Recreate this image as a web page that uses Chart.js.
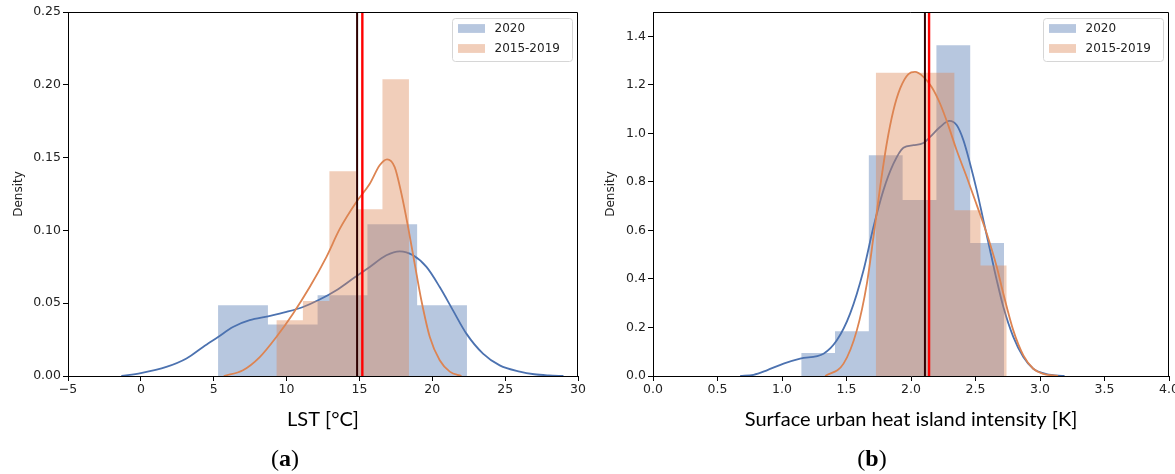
<!DOCTYPE html>
<html>
<head>
<meta charset="utf-8">
<script src="https://cdn.jsdelivr.net/npm/chart.js@4.4.0/dist/chart.umd.min.js"></script>
<style>
  body { margin: 0; background: #fff; width: 1175px; height: 474px; overflow: hidden; position: relative; }
  .panel { position: absolute; top: 0; }
  .panel canvas { display: block; }
  .tag { position: absolute; top: 443px; width: 60px; text-align: center; font-family: 'Liberation Serif', serif; font-size: 24px; line-height: 30px; color: #000; }
</style>
</head>
<body>
<div class="panel" style="left:0"><canvas id="lstChart" width="590" height="474"></canvas></div>
<div class="panel" style="left:590px"><canvas id="suhiChart" width="585" height="474"></canvas></div>
<div class="tag" style="left:255px">(<b>a</b>)</div>
<div class="tag" style="left:842px">(<b>b</b>)</div>
<script>
// (a) LST - histogram bin edges and densities
const lstEdges2020 = [5.3, 8.72, 12.13, 15.55, 18.96, 22.38];
const lstDensity2020 = [0.0486, 0.0353, 0.0554, 0.1042, 0.0486];
const lstEdges1519 = [9.3, 11.12, 12.94, 14.76, 16.58, 18.4];
const lstDensity1519 = [0.0383, 0.0515, 0.1406, 0.1145, 0.2038];

// (a) KDE curves
const lstKdeX2020 = [-1.34, 0, 1.75, 3.13, 4.27, 5.3, 6.32, 7.47, 8.73, 9.99, 11.13, 12.27, 13.42, 14.56, 15.71, 16.85, 17.77, 18.68, 19.6, 20.51, 21.42, 22.34, 23.48, 24.63, 26, 27, 28, 29];
const lstKdeY2020 = [0, 0.002, 0.0062, 0.012, 0.0199, 0.0268, 0.0337, 0.0383, 0.041, 0.044, 0.0474, 0.0525, 0.0589, 0.0669, 0.0749, 0.0829, 0.0856, 0.0829, 0.0749, 0.0611, 0.0451, 0.0291, 0.0154, 0.0073, 0.003, 0.0012, 0.0004, 0];
const lstKdeX1519 = [5.69, 7.01, 8.16, 9.3, 10.44, 11.59, 12.73, 13.65, 14.79, 15.71, 16.39, 16.9, 17.42, 17.88, 18.34, 18.79, 19.25, 19.83, 20.51, 21.2, 22.0];
const lstKdeY1519 = [0, 0.004, 0.013, 0.0268, 0.0428, 0.0611, 0.0817, 0.101, 0.1195, 0.132, 0.1447, 0.1488, 0.1435, 0.1253, 0.1023, 0.0772, 0.052, 0.0268, 0.0108, 0.003, 0];
const lstMeanLines = [14.84, 15.2]; // dark, red

// (b) SUHI intensity
const suhiEdges2020 = [1.149, 1.411, 1.673, 1.935, 2.197, 2.459, 2.721];
const suhiDensity2020 = [0.095, 0.184, 0.91, 0.725, 1.363, 0.548];
const suhiEdges1519 = [1.727, 1.93, 2.133, 2.336, 2.539, 2.742];
const suhiDensity1519 = [1.25, 1.25, 1.25, 0.683, 0.455];

const suhiKdeX2020 = [0.676, 0.78, 0.883, 1.012, 1.141, 1.322, 1.425, 1.528, 1.632, 1.709, 1.786, 1.864, 1.941, 2.019, 2.096, 2.148, 2.225, 2.297, 2.355, 2.406, 2.458, 2.51, 2.561, 2.613, 2.665, 2.716, 2.793, 2.871, 2.948, 3.05, 3.19];
const suhiKdeY2020 = [0, 0.005, 0.0235, 0.051, 0.0717, 0.092, 0.147, 0.257, 0.436, 0.614, 0.765, 0.875, 0.941, 0.951, 0.96, 0.985, 1.026, 1.051, 1.033, 0.972, 0.875, 0.765, 0.642, 0.518, 0.394, 0.284, 0.161, 0.078, 0.03, 0.008, 0];
const suhiKdeX1519 = [1.335, 1.477, 1.58, 1.658, 1.709, 1.761, 1.812, 1.864, 1.916, 1.98, 2.031, 2.096, 2.16, 2.225, 2.289, 2.354, 2.432, 2.51, 2.587, 2.665, 2.716, 2.793, 2.871, 2.948, 3.026, 3.14];
const suhiKdeY1519 = [0, 0.051, 0.188, 0.381, 0.573, 0.779, 0.958, 1.095, 1.185, 1.244, 1.253, 1.233, 1.191, 1.123, 1.033, 0.93, 0.82, 0.704, 0.587, 0.449, 0.339, 0.188, 0.085, 0.03, 0.009, 0];
const suhiMeanLines = [2.108, 2.14];

const seriesLabels = ['2020', '2015-2019'];
const blue = '#4c72b0';
const orange = '#dd8452';

Chart.defaults.font.family = "'DejaVu Sans', sans-serif";
Chart.defaults.font.size = 12;
Chart.defaults.color = '#222';

function histPoints(edges, heights) {
    return edges.map((e, i) => ({ x: e, y: i < heights.length ? heights[i] : 0 }));
}
function curvePoints(xs, ys) {
    return xs.map((x, i) => ({ x: x, y: ys[i] }));
}
function vline(x, ymax) {
    return [{ x: x, y: 0 }, { x: x, y: ymax }];
}

// top + right spines
const frameBox = {
    id: 'frameBox',
    afterDatasetsDraw(chart) {
        const { ctx, chartArea: a } = chart;
        const t = Math.round(a.top) + 0.5, r = Math.round(a.right) - 0.5;
        ctx.save();
        ctx.strokeStyle = '#000';
        ctx.lineWidth = 1;
        ctx.beginPath();
        ctx.moveTo(a.left, t);
        ctx.lineTo(r, t);
        ctx.lineTo(r, a.bottom);
        ctx.stroke();
        ctx.restore();
    }
};

// matplotlib style legend box in the upper right
const histLegend = {
    id: 'histLegend',
    afterDraw(chart) {
        const { ctx, chartArea: a } = chart;
        const items = chart.data.datasets.filter(d => d.inLegend);
        const w = 120, h = 43;
        const x0 = a.right - 5.5 - w, y0 = a.top + 6.5;
        ctx.save();
        ctx.beginPath();
        ctx.roundRect(x0, y0, w, h, 3);
        ctx.fillStyle = 'rgba(255,255,255,0.8)';
        ctx.fill();
        ctx.strokeStyle = '#d6d6d6';
        ctx.lineWidth = 1;
        ctx.stroke();
        ctx.font = "12px 'DejaVu Sans'";
        ctx.textBaseline = 'middle';
        items.forEach((d, i) => {
            const cy = y0 + 10 + i * 20;
            ctx.fillStyle = d.backgroundColor;
            ctx.fillRect(x0 + 5.5, cy - 4.4, 27, 8.8);
            ctx.fillStyle = '#222';
            ctx.fillText(d.label, x0 + 42, cy);
        });
        ctx.restore();
    }
};

function buildChart(id, p) {
    return new Chart(document.getElementById(id), {
        type: 'line',
        data: {
            datasets: [{
                label: seriesLabels[0],
                data: histPoints(p.edgesA, p.densA),
                stepped: 'before', fill: 'origin',
                backgroundColor: 'rgba(76,114,176,0.4)',
                borderWidth: 0, pointRadius: 0, order: 6, inLegend: true
            }, {
                label: seriesLabels[0] + ' kde',
                data: curvePoints(p.kdeXA, p.kdeYA),
                borderColor: blue, borderWidth: 1.8, pointRadius: 0,
                cubicInterpolationMode: 'monotone', fill: false, order: 5
            }, {
                label: seriesLabels[1],
                data: histPoints(p.edgesB, p.densB),
                stepped: 'before', fill: 'origin',
                backgroundColor: 'rgba(221,132,82,0.4)',
                borderWidth: 0, pointRadius: 0, order: 4, inLegend: true
            }, {
                label: seriesLabels[1] + ' kde',
                data: curvePoints(p.kdeXB, p.kdeYB),
                borderColor: orange, borderWidth: 1.8, pointRadius: 0,
                cubicInterpolationMode: 'monotone', fill: false, order: 3
            }, {
                label: 'mean 1',
                data: vline(p.means[0], p.yMax),
                borderColor: '#2e0000', borderWidth: 2, pointRadius: 0, fill: false, order: 2
            }, {
                label: 'mean 2',
                data: vline(p.means[1], p.yMax),
                borderColor: '#ff0000', borderWidth: 2.4, pointRadius: 0, fill: false, order: 1
            }]
        },
        options: {
            responsive: false,
            animation: false,
            layout: { padding: { left: 0, top: 12, right: p.padRight, bottom: 40 } },
            plugins: { legend: { display: false }, tooltip: { enabled: false } },
            scales: {
                x: {
                    type: 'linear', min: p.xMin, max: p.xMax,
                    ticks: { stepSize: p.xStep, padding: 1, callback: p.xFmt, font: { size: 12.5 } },
                    grid: { drawOnChartArea: false, tickLength: 5, color: '#000' },
                    border: { color: '#000', width: 1 },
                    title: {
                        display: true, text: p.xTitle, color: '#000',
                        font: { family: 'Lato', size: 20 },
                        padding: { top: 0, bottom: 2 }
                    },
                    afterFit: s => { s.height = 58; s.paddingLeft = 0; s.paddingRight = 0; }
                },
                y: {
                    min: 0, max: p.yMax,
                    ticks: { stepSize: p.yStep, padding: 2, callback: p.yFmt, font: { size: 12.5 } },
                    grid: { drawOnChartArea: false, tickLength: 5, color: '#000' },
                    border: { color: '#000', width: 1 },
                    title: {
                        display: true, text: 'Density', color: '#222',
                        font: { size: 12 },
                        padding: { top: p.yTitlePad, bottom: 0 }
                    },
                    afterBuildTicks: s => { s.ticks = s.ticks.filter(t => t.value <= p.yLastTick + 1e-9); },
                    afterFit: s => { s.width = p.yAxisWidth; s.paddingTop = 0; s.paddingBottom = 0; }
                }
            }
        },
        plugins: [frameBox, histLegend]
    });
}

buildChart('lstChart', {
    edgesA: lstEdges2020, densA: lstDensity2020,
    edgesB: lstEdges1519, densB: lstDensity1519,
    kdeXA: lstKdeX2020, kdeYA: lstKdeY2020,
    kdeXB: lstKdeX1519, kdeYB: lstKdeY1519,
    means: lstMeanLines,
    xMin: -5, xMax: 30, xStep: 5,
    xFmt: v => (v < 0 ? '\u2212' + Math.abs(v) : String(v)),
    yMax: 0.25, yStep: 0.05, yLastTick: 0.25,
    yFmt: v => v.toFixed(2),
    xTitle: 'LST [°C]',
    yAxisWidth: 68, yTitlePad: 12, padRight: 12
});

buildChart('suhiChart', {
    edgesA: suhiEdges2020, densA: suhiDensity2020,
    edgesB: suhiEdges1519, densB: suhiDensity1519,
    kdeXA: suhiKdeX2020, kdeYA: suhiKdeY2020,
    kdeXB: suhiKdeX1519, kdeYB: suhiKdeY1519,
    means: suhiMeanLines,
    xMin: 0, xMax: 4, xStep: 0.5,
    xFmt: v => v.toFixed(1),
    yMax: 1.5, yStep: 0.2, yLastTick: 1.4,
    yFmt: v => v.toFixed(1),
    xTitle: 'Surface urban heat island intensity [K]',
    yAxisWidth: 63, yTitlePad: 13.5, padRight: 6
});
</script>
</body>
</html>
